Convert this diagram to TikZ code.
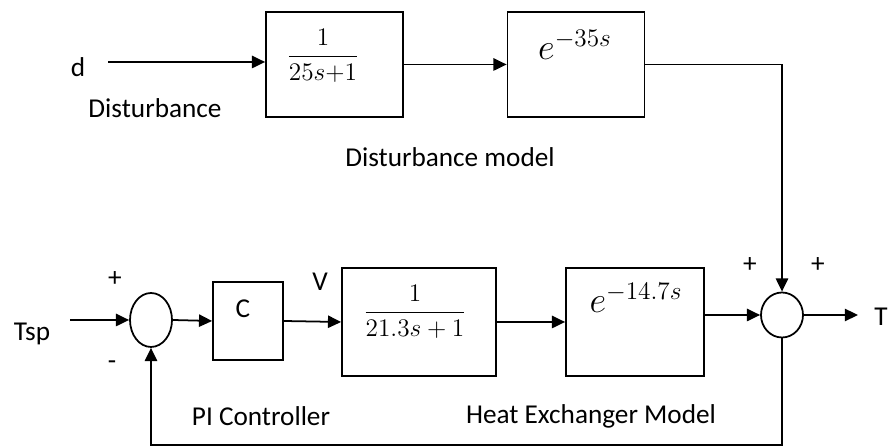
\documentclass[tikz,border=0pt]{standalone}
\usepackage{amsmath}
\usepackage{fontspec}
\setmainfont{Carlito}
\usetikzlibrary{arrows.meta,shapes.geometric}

\tikzset{
  block/.style={draw=black,line width=1pt,inner sep=0pt},
  sumnode/.style={draw=black,ellipse,line width=1pt,inner sep=0pt},
  arr/.style={line width=1pt,-{Triangle[length=7.5pt,width=7pt]}},
  lbl/.style={font=\fontsize{15.5}{18}\selectfont,inner sep=0pt},
  tf/.style={font=\fontsize{15.5}{18}\selectfont,inner sep=0pt},
  dly/.style={font=\fontsize{22}{26}\selectfont,inner sep=0pt}
}

\begin{document}
\begin{tikzpicture}
  \useasboundingbox (0,0) rectangle (17.78,8.96);

  % disturbance path d -> 1/(25s+1) -> e^{-35s}
  \begin{scope}
    \node[block,minimum width=2.74cm,minimum height=2.1cm] (lag1) at (6.69,7.67) {};
    \node[block,minimum width=2.74cm,minimum height=2.1cm] (dly1) at (11.52,7.67) {};
    \node[lbl] (dlbl) at (1.56,7.62) {d};
    \coordinate (din) at (2.16,7.72);
    \node[lbl] (dtxt) at (3.1,6.8) {Disturbance};
    \node[lbl] (dmod) at (9.0,5.82) {Disturbance model};
    \node[tf] (lag1tf) at (6.46,7.84) {$\dfrac{1}{25s{+}1}$};
    \node[dly] (dly1tf) at (11.5,8.06) {$e^{-35s}$};
    \draw[arr] (din) -- (din -| lag1.west);
    \draw[arr] (lag1.east) -- (dly1.west);
  \end{scope}

  % loop Tsp -> C -> 1/(21.3s+1) -> e^{-14.7s} -> T
  \begin{scope}
    \node[sumnode,minimum width=0.84cm,minimum height=1.08cm] (sum1) at (3.02,2.56) {};
    \node[block,minimum width=1.4cm,minimum height=1.56cm] (ctrl) at (4.96,2.54) {};
    \node[block,minimum width=3.08cm,minimum height=2.16cm] (lag2) at (8.38,2.52) {};
    \node[block,minimum width=2.76cm,minimum height=2.16cm] (dly2) at (12.7,2.52) {};
    \node[sumnode,minimum width=0.84cm,minimum height=0.9cm] (sum2) at (15.64,2.66) {};
    \node[lbl] (tsp) at (0.64,2.28) {Tsp};
    \coordinate (tin) at (1.4,2.56);
    \coordinate (tout) at (17.16,2.66);
    \coordinate (fb) at (0,0.06);
    \node[lbl] (tlbl) [anchor=east] at (17.76,2.62) {T};
    \node[lbl] (p1) at (2.3,3.38) {+};
    \node[lbl] (m1) at (2.24,1.66) {-};
    \node[lbl] (p2) at (15.0,3.66) {+};
    \node[lbl] (p3) at (16.36,3.66) {+};
    \node[lbl] (vlbl) at (6.4,3.32) {V};
    \node[lbl] (clbl) at (4.86,2.78) {C};
    \node[tf] (lag2tf) at (8.3,2.72) {$\dfrac{1}{21.3s+1}$};
    \node[dly] (dly2tf) at (12.72,3.0) {$e^{-14.7s}$};
    \node[lbl] (pitxt) at (5.22,0.64) {PI Controller};
    \node[lbl] (hxtxt) at (11.82,0.64) {Heat Exchanger Model};
    \draw[arr] (tin) -- (sum1.west);
    \draw[arr] (sum1.east) -- (ctrl.west);
    \draw[arr] (ctrl.east) -- (lag2.west);
    \draw[arr] (lag2.east) -- (dly2.west);
    \draw[arr] (dly2.east |- sum2.west) -- (sum2.west);
    \draw[arr] (sum2.east) -- (tout);
    \draw[arr] (dly1.east) -| (sum2.north);
    \draw[arr] (sum2.south) -- (sum2.south |- fb) -| (sum1.south);
  \end{scope}
\end{tikzpicture}
\end{document}
